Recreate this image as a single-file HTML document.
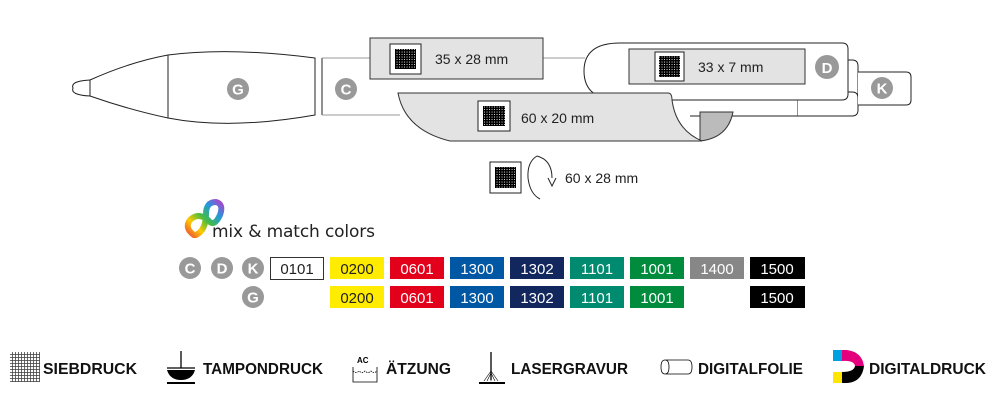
<!DOCTYPE html>
<html><head><meta charset="utf-8"><style>
html,body{margin:0;padding:0;background:#fff;}
svg{display:block;font-family:"Liberation Sans",Arial,sans-serif;}
</style></head><body>
<svg width="1000" height="400" viewBox="0 0 1000 400" xmlns="http://www.w3.org/2000/svg">
<defs>
<pattern id="g" width="2.5" height="2.5" patternUnits="userSpaceOnUse">
<rect width="2.5" height="2.5" fill="#fff"/><rect width="1.6" height="2.5" fill="#000"/><rect width="2.5" height="1.6" fill="#000"/>
</pattern>
<pattern id="g2" width="3" height="3" patternUnits="userSpaceOnUse">
<rect width="3" height="3" fill="#fff"/><rect width="0.8" height="3" fill="#444"/><rect width="3" height="0.8" fill="#444"/>
</pattern>
<linearGradient id="rb" x1="0" y1="1" x2="1" y2="0">
<stop offset="0" stop-color="#e53"/><stop offset=".25" stop-color="#fc0"/><stop offset=".5" stop-color="#4b4"/><stop offset=".75" stop-color="#29d"/><stop offset="1" stop-color="#a4c"/>
</linearGradient>
</defs>
<g fill="none" stroke="#222" stroke-width="1">
<path d="M90,80 Q70,81 73,88 Q70,95 90,96"/>
<path d="M90,80 Q130,62 168,55 Q230,47 315,58 L315,115 Q230,130 168,118 Q130,110 90,96 Z" fill="#fff"/>
<line x1="168" y1="55" x2="168" y2="118"/>
<line x1="322" y1="58" x2="322" y2="115"/>
<line x1="322" y1="58" x2="370" y2="58" stroke="#999"/>
<line x1="322" y1="115" x2="400" y2="115" stroke="#999"/>
<line x1="543" y1="58" x2="585" y2="58" stroke="#999"/>
<path d="M690,92 L798,92 L798,116 L690,116" fill="#fff"/>
<path d="M798,92 L852,92 Q858,92 858,98 L858,110 Q858,116 852,116 L798,116" fill="#fff"/>
<path d="M848,60 L852,60 Q858,60 858,66 L858,110" />
<path d="M858,72 L906,72 Q911,72 911,77 L911,100 Q911,105 906,105 L858,105" fill="#fff"/>
<path d="M620,43 L842,43 Q848,43 848,49 L848,94 Q848,100 842,100 L620,100 Q584,100 584,71 Q584,43 620,43 Z" fill="#fff"/>
<rect x="629" y="49" width="176" height="35" fill="#e3e3e3" stroke="#333"/>
<rect x="655" y="52" width="29" height="29" fill="#fff"/>
<rect x="659" y="56" width="21" height="21" fill="url(#g)" stroke="none"/>
<rect x="370" y="38" width="173" height="41" fill="#e3e3e3" stroke="#333"/>
<rect x="390" y="44" width="31" height="30" fill="#fff"/>
<rect x="395" y="49" width="21" height="20" fill="url(#g)" stroke="none"/>
<path d="M700,112 Q728,112 733,112 Q728,138 700,141 Z" fill="#bbb" stroke="#333"/>
<path d="M398,93 L668,93 Q672,93 672,100 Q676,130 702,141 L450,141 Q405,130 398,93 Z" fill="#e3e3e3" stroke="#333"/>
<rect x="478" y="101" width="32" height="30" fill="#fff"/>
<rect x="483" y="106" width="22" height="20" fill="url(#g)" stroke="none"/>
<rect x="490" y="162" width="31" height="31" fill="#fff"/>
<rect x="495" y="167" width="21" height="21" fill="url(#g)" stroke="none"/>
<path d="M537,156 Q527,162 528,178 Q530,194 540,199" />
<path d="M537,156 Q552,160 552,178" />
<path d="M548,178 L552,186 L556,178"/>
</g>
<g font-size="14" fill="#222">
<text x="435" y="64">35 x 28 mm</text>
<text x="698" y="72">33 x 7 mm</text>
<text x="521" y="123">60 x 20 mm</text>
<text x="565" y="183">60 x 28 mm</text>
</g>
<g fill="#999">
<circle cx="238" cy="89" r="11"/><circle cx="346" cy="89" r="11"/><circle cx="827" cy="67" r="12"/><circle cx="882" cy="88" r="11"/>
<circle cx="190" cy="268" r="11"/><circle cx="222" cy="268" r="11"/><circle cx="253" cy="268" r="11"/><circle cx="253" cy="297" r="11"/>
</g>
<g fill="#fff" font-weight="bold" font-size="15" text-anchor="middle">
<text x="238" y="94.5">G</text><text x="346" y="94.5">C</text><text x="827" y="73">D</text><text x="882" y="93.5">K</text>
<text x="190" y="273.5">C</text><text x="222" y="273.5">D</text><text x="253" y="273.5">K</text><text x="253" y="302.5">G</text>
</g>
<path d="M194,235 Q184,228 190,220 Q198,212 208,220 Q214,228 220,215 Q224,204 216,202 Q206,202 206,214 Q206,230 196,235 Z" fill="none" stroke="url(#rb)" stroke-width="6"/>
<text x="212" y="237" font-size="17" fill="#222" font-family="'DejaVu Sans',sans-serif" textLength="163">mix &amp; match colors</text>
<g font-size="15" text-anchor="middle">
<rect x="270.5" y="257.5" width="53" height="22" fill="#fff" stroke="#333"/><text x="297" y="274" fill="#222">0101</text>
<rect x="330" y="257" width="54" height="22" fill="#ffec00"/><text x="357" y="274" fill="#222">0200</text>
<rect x="390" y="257" width="54" height="22" fill="#e2001a"/><text x="417" y="274" fill="#fff">0601</text>
<rect x="450" y="257" width="54" height="22" fill="#0057a3"/><text x="477" y="274" fill="#fff">1300</text>
<rect x="510" y="257" width="54" height="22" fill="#12275d"/><text x="537" y="274" fill="#fff">1302</text>
<rect x="570" y="257" width="54" height="22" fill="#008a70"/><text x="597" y="274" fill="#fff">1101</text>
<rect x="630" y="257" width="54" height="22" fill="#008c3c"/><text x="657" y="274" fill="#fff">1001</text>
<rect x="690" y="257" width="54" height="22" fill="#878787"/><text x="717" y="274" fill="#fff">1400</text>
<rect x="750" y="257" width="55" height="22" fill="#000"/><text x="777" y="274" fill="#fff">1500</text>
<rect x="330" y="286" width="54" height="22" fill="#ffec00"/><text x="357" y="303" fill="#222">0200</text>
<rect x="390" y="286" width="54" height="22" fill="#e2001a"/><text x="417" y="303" fill="#fff">0601</text>
<rect x="450" y="286" width="54" height="22" fill="#0057a3"/><text x="477" y="303" fill="#fff">1300</text>
<rect x="510" y="286" width="54" height="22" fill="#12275d"/><text x="537" y="303" fill="#fff">1302</text>
<rect x="570" y="286" width="54" height="22" fill="#008a70"/><text x="597" y="303" fill="#fff">1101</text>
<rect x="630" y="286" width="54" height="22" fill="#008c3c"/><text x="657" y="303" fill="#fff">1001</text>
<rect x="750" y="286" width="55" height="22" fill="#000"/><text x="777" y="303" fill="#fff">1500</text>
</g>
<rect x="10" y="352" width="30" height="30" fill="url(#g2)"/>
<g stroke="#000" fill="none" stroke-width="1.3">
<line x1="181" y1="351" x2="181" y2="368"/><line x1="167" y1="368" x2="195" y2="368"/>
<line x1="167" y1="383" x2="195" y2="383" stroke-width="2"/>
<path d="M353,371 Q356,374 359,371 Q362,374 365,371 Q368,374 371,371 Q374,374 377,371" stroke-width="0.8" stroke-dasharray="1.5 1"/>
<path d="M353,367 L353,382 L377,382 L377,367" stroke-width="0.8"/>
<line x1="491" y1="352" x2="491" y2="380"/>
<line x1="479" y1="383" x2="505" y2="383" stroke-width="2"/>
<path d="M484,381 L491,371 L498,381 M487,381 L491,373 M495,381 L491,373 M491,381 L491,371" stroke-width="0.6"/>
<path d="M665,360 L688,360 Q692,360 692,367 Q692,374 688,374 L665,374 Q661,374 661,367 Q661,360 665,360 Z M665,360 Q669,360 669,367 Q669,374 665,374" stroke-width="0.8"/>
</g>
<path d="M167,370 L195,370 Q192,380 181,380 Q170,380 167,370 Z" fill="#000"/>
<text x="357" y="363" font-size="8" font-weight="bold">AC</text>
<rect x="833" y="350" width="9" height="11" fill="#00a0e3"/>
<rect x="833" y="372" width="9" height="11" fill="#ffe500"/>
<path d="M842,350 L847,350 Q862,352 864,366 L855,366 Q854,360 842,361 Z" fill="#e4007d"/>
<path d="M855,366 L864,366 Q862,382 847,383 L842,383 L842,372 Q854,372 855,366 Z" fill="#000"/>
<g font-size="16" font-weight="bold" fill="#111" lengthAdjust="spacingAndGlyphs">
<text x="43" y="374" textLength="94" lengthAdjust="spacingAndGlyphs">SIEBDRUCK</text>
<text x="203" y="374" textLength="120" lengthAdjust="spacingAndGlyphs">TAMPONDRUCK</text>
<text x="386" y="374" textLength="65" lengthAdjust="spacingAndGlyphs">ÄTZUNG</text>
<text x="511" y="374" textLength="117" lengthAdjust="spacingAndGlyphs">LASERGRAVUR</text>
<text x="698" y="374" textLength="105" lengthAdjust="spacingAndGlyphs">DIGITALFOLIE</text>
<text x="869" y="374" textLength="117" lengthAdjust="spacingAndGlyphs">DIGITALDRUCK</text>
</g>
</svg>
</body></html>
